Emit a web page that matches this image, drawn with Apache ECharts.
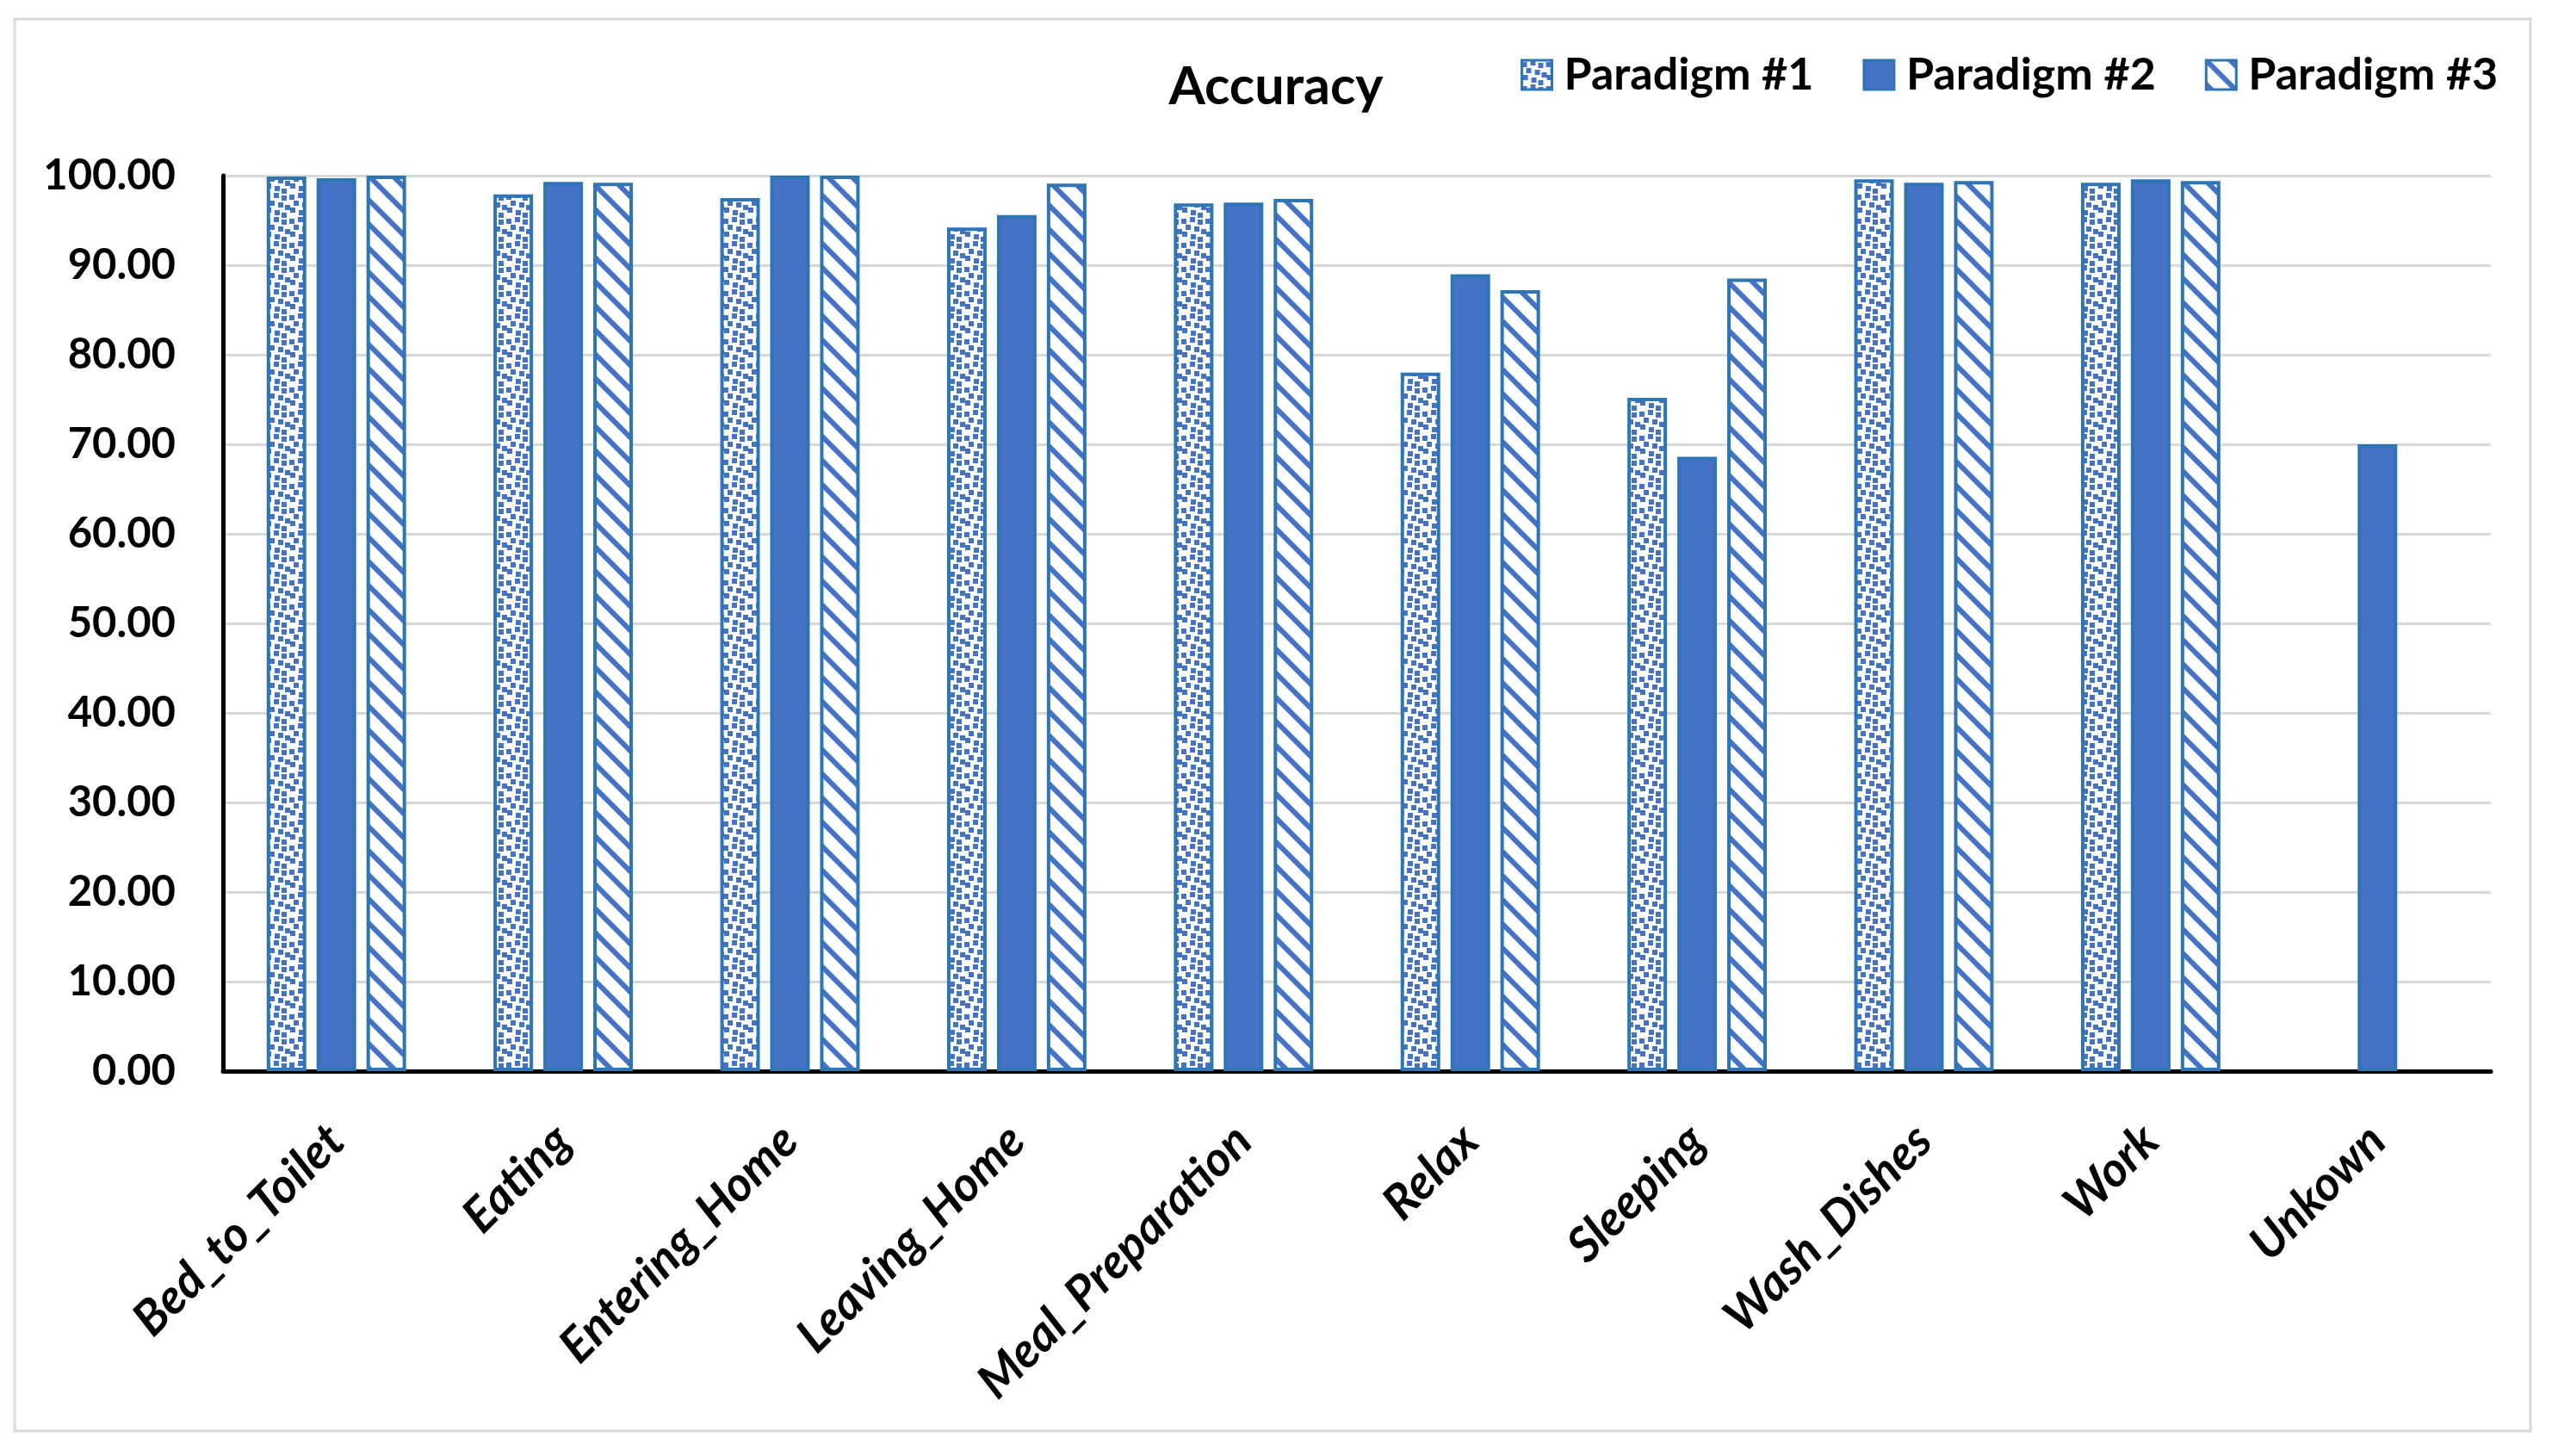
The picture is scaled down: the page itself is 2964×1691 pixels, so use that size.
<!DOCTYPE html>
<html>
<head>
<meta charset="utf-8">
<script src="https://cdn.jsdelivr.net/npm/echarts@6/dist/echarts.min.js"></script>
<style>html,body{margin:0;padding:0;background:#fff}#c{width:2964px;height:1691px}</style>
</head>
<body>
<div id="c"></div>
<script>
const categories = ['Bed_to_Toilet','Eating','Entering_Home','Leaving_Home','Meal_Preparation','Relax','Sleeping','Wash_Dishes','Work','Unkown'];
const seriesNames = ['Paradigm #1','Paradigm #2','Paradigm #3'];
const paradigm1 = [99.9, 97.9, 97.5, 94.2, 96.9, 78.0, 75.2, 99.6, 99.2, null];
const paradigm2 = [99.7, 99.3, 100.0, 95.6, 97.0, 89.0, 68.6, 99.2, 99.6, 70.0];
const paradigm3 = [100.0, 99.2, 100.0, 99.1, 97.4, 87.2, 88.5, 99.4, 99.4, null];
const yMin = 0, yMax = 100, yStep = 10;
const titleText = 'Accuracy';

const BLUE = '#4472C4', EDGE = '#2E75B6';

function confetti() {
  const c = document.createElement('canvas'); c.width = 28; c.height = 28;
  const g = c.getContext('2d');
  g.fillStyle = '#fff'; g.fillRect(0, 0, 28, 28);
  g.fillStyle = BLUE;
  const s = 6;
  const pts = [[0,2],[10,0],[19,3],[5,9],[15,11],[23,14],[1,17],[11,20],[19,23]];
  pts.forEach(p => {
    for (const dx of [0, -28]) for (const dy of [0, -28]) g.fillRect(p[0] + dx, p[1] + dy, s, s);
    g.fillRect(p[0], p[1] + 28, s, s); g.fillRect(p[0] + 28, p[1], s, s);
  });
  return c;
}
function stripes() {
  const c = document.createElement('canvas'); c.width = 28; c.height = 28;
  const g = c.getContext('2d');
  g.fillStyle = '#fff'; g.fillRect(0, 0, 28, 28);
  g.strokeStyle = BLUE; g.lineWidth = 6; g.lineCap = 'square';
  [-28, 0, 28].forEach(o => { g.beginPath(); g.moveTo(o - 4, -4); g.lineTo(o + 32, 32); g.stroke(); });
  return c;
}
const fills = [{image: confetti(), repeat: 'repeat'}, BLUE, {image: stripes(), repeat: 'repeat'}];
const values = [paradigm1, paradigm2, paradigm3];

const chart = echarts.init(document.getElementById('c'), null, {renderer: 'canvas'});
chart.setOption({
  animation: false,
  backgroundColor: '#fff',
  title: {
    text: titleText, left: 1477, top: 66, textAlign: 'center',
    textStyle: {fontFamily: 'Lato', fontWeight: 'bold', fontSize: 61, color: '#000'}
  },
  legend: {
    left: 1761, top: 56, itemWidth: 35, itemHeight: 34, itemGap: 57, icon: 'rect',
    textStyle: {fontFamily: 'Lato', fontWeight: 'bold', fontSize: 52, color: '#000', padding: [0, 0, 0, 9]},
    data: seriesNames.map((n, i) => ({name: n, itemStyle: {color: fills[i], borderColor: EDGE, borderWidth: 3}}))
  },
  grid: {left: 259, right: 71, top: 204, bottom: 447, containLabel: false},
  xAxis: {
    type: 'category', data: categories,
    axisTick: {show: false},
    axisLine: {show: true, lineStyle: {color: '#000', width: 5}},
    axisLabel: {rotate: 45, margin: 72, interval: 0, fontFamily: 'Lato', fontStyle: 'italic', fontWeight: 'bold', fontSize: 56, color: '#000'}
  },
  yAxis: {
    type: 'value', min: yMin, max: yMax, interval: yStep,
    axisLine: {show: true, lineStyle: {color: '#000', width: 5}},
    axisTick: {show: false},
    splitLine: {lineStyle: {color: '#D9D9D9', width: 3}},
    axisLabel: {margin: 55, fontFamily: 'Lato', fontWeight: 'bold', fontSize: 49, color: '#000', formatter: v => v.toFixed(2)}
  },
  series: seriesNames.map((n, i) => ({
    name: n, type: 'bar', data: values[i], barWidth: 46, barGap: '26%',
    itemStyle: {color: fills[i], borderColor: EDGE, borderWidth: 4}
  })),
  graphic: [{
    type: 'rect', silent: true, z: -1,
    shape: {x: 17, y: 22, width: 2922, height: 1640},
    style: {fill: 'none', stroke: '#D9D9D9', lineWidth: 3}
  }]
});
</script>
</body>
</html>
